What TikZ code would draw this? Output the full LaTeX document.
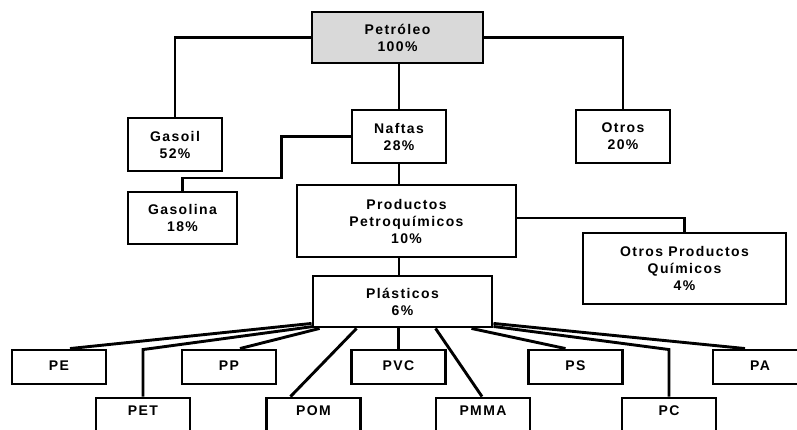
\documentclass[tikz,border=0pt]{standalone}
\usepackage{fontspec}
\newfontfamily\dfont{Liberation Sans}[LetterSpace=10]
\usetikzlibrary{calc}
\definecolor{boxgray}{HTML}{D9D9D9}
\begin{document}
\begin{tikzpicture}[x=1pt,y=-1pt,
  box/.style={draw, line width=2.9pt, inner sep=0pt, align=center,
    font=\dfont\bfseries\fontsize{14}{17}\selectfont},
  leafa/.style={box, minimum width=94pt, minimum height=34pt, text height=20pt, text depth=14pt},
  leafb/.style={box, minimum width=94pt, minimum height=34pt, text height=17pt, text depth=17pt},
  conn/.style={line width=2.9pt}]
\useasboundingbox (0,0) rectangle (797,430);
\clip (0,0) rectangle (797,430);
% main boxes
\node[box, fill=boxgray, minimum width=171pt, minimum height=51pt] (pet) at (397.5,37.5) {Petróleo\\100\%};
\node[box, minimum width=94pt, minimum height=53pt] (gasoil) at (175,144.5) {Gasoil\\52\%};
\node[box, minimum width=94pt, minimum height=53pt] (naftas) at (399,136.5) {Naftas\\28\%};
\node[box, minimum width=94pt, minimum height=53pt] (otros) at (623,136.5) {Otros\\20\%};
\node[box, minimum width=109pt, minimum height=52pt] (gasolina) at (182.5,218) {Gasolina\\18\%};
\node[box, minimum width=219pt, minimum height=72pt] (prod) at (406.5,221) {Productos\\Petroquímicos\\10\%};
\node[box, minimum width=203pt, minimum height=71pt] (otrosp) at (684.5,268.5) {Otros Productos\\Químicos\\4\%};
\node[box, minimum width=179pt, minimum height=51pt] (plas) at (402.5,301.5) {Plásticos\\6\%};
% leaves row 1
\node[leafa] (pe) at (59,367) {PE};
\node[leafa] (pp) at (229,367) {PP};
\node[leafa] (pvc) at (398.5,367) {PVC};
\node[leafa] (ps) at (575.5,367) {PS};
\node[leafa] (pa) at (760,367) {PA};
% leaves row 2
\node[leafb] (pet2) at (143,415) {PET};
\node[leafb] (pom) at (313.5,415) {POM};
\node[leafb] (pmma) at (483,415) {PMMA};
\node[leafb] (pc) at (669,415) {PC};
% connectors top
\draw[conn] (pet.west) -| (gasoil.north);
\draw[conn] (pet.east) -| (otros.north);
\draw[conn] (naftas.north |- pet.south) -- (naftas.north);
\draw[conn] (naftas.west) -- ++(-69,0) -- ++(0,41.5) -| (gasolina.north);
\draw[conn] (naftas.south) -- (naftas.south |- prod.north);
\draw[conn] ($(prod.east)+(0,-3)$) -| (otrosp.north);
\draw[conn] (naftas.south |- prod.south) -- (naftas.south |- plas.north);
% fan from plasticos
\draw[conn] ($(plas.south west)+(0,-5)$) -- ($(pe.north)+(11,0)$);
\draw[conn] ($(plas.south west)+(2,-2)$) -- ($(pet2.north)+(0,-47)$) -- (pet2.north);
\draw[conn] ($(plas.south west)+(8,0)$) -- ($(pp.north)+(11,0)$);
\draw[conn] ($(plas.south west)+(45,0)$) -- ($(pom.north)+(-23,0)$);
\draw[conn] (pvc.north |- plas.south) -- (pvc.north);
\draw[conn] ($(plas.south west)+(124,0)$) -- ($(pmma.north)+(-1,0)$);
\draw[conn] ($(plas.south east)+(-22,0)$) -- ($(ps.north)+(-10,0)$);
\draw[conn] ($(plas.south east)+(0,-2)$) -- ($(pc.north)+(0,-47)$) -- (pc.north);
\draw[conn] ($(plas.south east)+(0,-5)$) -- ($(pa.north)+(-15,0)$);
\end{tikzpicture}
\end{document}
